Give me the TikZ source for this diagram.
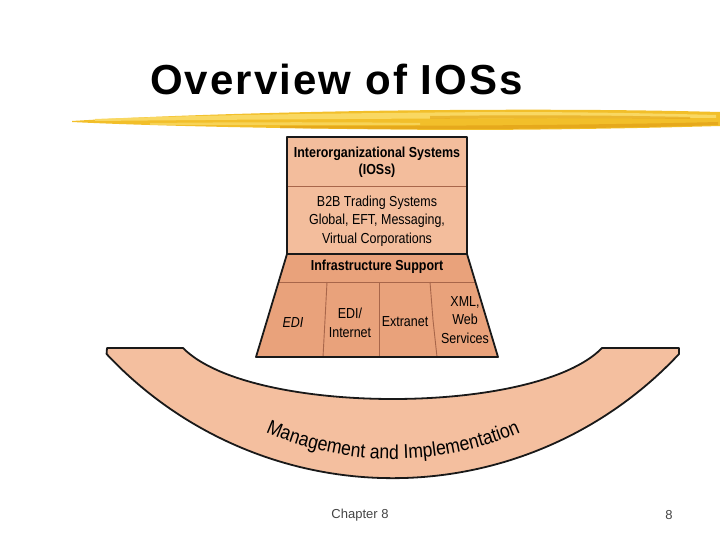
\documentclass[tikz,border=0pt]{standalone}
\usepackage{fontspec}
\setmainfont{Liberation Sans}
\newfontfamily\titlefont[LetterSpace=5]{Liberation Sans}
\newfontfamily\cond[FakeStretch=0.86]{Liberation Sans}
\newfontfamily\arccond[FakeStretch=0.88]{Liberation Sans}
\usetikzlibrary{decorations.text}
\definecolor{boxlight}{HTML}{F3BD9C}
\definecolor{boxdark}{HTML}{E9A27B}
\definecolor{arcfill}{HTML}{F4BF9F}
\definecolor{divline}{HTML}{A8664A}
\definecolor{brushA}{HTML}{F2BF2A}
\definecolor{brushB}{HTML}{F9D862}
\definecolor{brushC}{HTML}{E6A91C}
\definecolor{footgray}{HTML}{444444}
\tikzset{
  outline/.style={draw=black!90, line width=1.8pt, line join=round},
  thinline/.style={draw=divline, line width=0.9pt},
  celltext/.style={font=\cond\fontsize{14.5}{18.5}\selectfont, align=center, inner sep=0pt},
  boldcell/.style={font=\cond\bfseries\fontsize{14.5}{17}\selectfont, align=center, inner sep=0pt},
}
\begin{document}
\begin{tikzpicture}[x=1pt,y=-1pt]
\useasboundingbox (0,0) rectangle (720,540);
% title
\node[anchor=base west, inner sep=0pt, font=\titlefont\bfseries\fontsize{42}{42}\selectfont] (title) at (150,95) {Overview of IOSs};
% brush stroke
\fill[brushA] (72,121) .. controls (150,116) and (300,111) .. (450,110) .. controls (600,109) and (680,111) .. (720,112) -- (720,126) .. controls (650,128) and (550,130) .. (450,130) .. controls (300,129) and (150,126) .. (72,122) -- cycle;
\fill[brushB] (95,119) .. controls (200,115) and (350,113) .. (500,112) .. controls (600,112) and (680,114) .. (716,115) -- (716,118) .. controls (600,118) and (400,118) .. (95,121) -- cycle;
\fill[brushB, opacity=0.8] (150,123) .. controls (250,122) and (350,122) .. (420,123) -- (420,125) .. controls (350,125) and (250,125) .. (150,125) -- cycle;
\fill[brushC] (280,126) .. controls (450,126) and (600,125) .. (718,122) -- (718,125) .. controls (600,129) and (450,130) .. (280,128) -- cycle;
\fill[brushC, opacity=0.7] (430,116) .. controls (500,115) and (600,115) .. (690,117) -- (690,119) .. controls (600,118) and (500,118) .. (430,119) -- cycle;
% management arc band
\path[fill=arcfill, outline] (107,348) -- (183,348) .. controls (250,416) and (536,416) .. (602,348) -- (679,348) -- (679,354)
  arc[start angle=43.1, end angle=136.9, radius=392] -- cycle;
\path[decorate, decoration={text along path, text align=center,
  text={|\arccond\fontsize{20}{20}\selectfont|Management and Implementation}}]
  (393,142) ++(125:317) arc[start angle=125, end angle=55, radius=317];
% trapezoid (infrastructure)
\path[fill=boxdark] (287,254) -- (467,254) -- (498,357) -- (256,357) -- cycle;
\draw[thinline] (278.6,282) -- (475.4,282);
\draw[thinline] (327,282) -- (325,320) -- (323,357);
\draw[thinline] (379,282) -- (379,357);
\draw[thinline] (430,282) -- (433,320) -- (437,357);
\draw[outline] (287,254) -- (256,357) -- (498,357) -- (467,254);
% top boxes
\node[fill=boxlight, minimum width=180pt, minimum height=49pt, inner sep=0pt] (ios) at (377,161.5) {};
\node[fill=boxlight, minimum width=180pt, minimum height=68pt, inner sep=0pt] (b2b) at (377,220) {};
\draw[thinline] (ios.south west) -- (ios.south east);
\draw[outline] (b2b.south west) -- (ios.north west) -- (ios.north east) -- (b2b.south east) -- cycle;
\node[boldcell] (iostext) at (377,162) {Interorganizational Systems\\(IOSs)};
\node[celltext] (b2btext) at (377,221) {B2B Trading Systems\\Global, EFT, Messaging,\\Virtual Corporations};
\node[boldcell] (infra) at (377,267) {Infrastructure Support};
\node[celltext, font=\cond\itshape\fontsize{14.5}{18}\selectfont] (edi) at (293,323) {EDI};
\node[celltext] (ediint) at (350,323) {EDI/\\Internet};
\node[celltext] (extra) at (405,322) {Extranet};
\node[celltext] (xml) at (465,320) {XML,\\Web\\Services};
% footer
\node[font=\fontsize{13}{13}\selectfont, text=footgray, inner sep=0pt] (chap) at (360,515) {Chapter 8};
\node[font=\fontsize{13}{13}\selectfont, text=footgray, inner sep=0pt] (page) at (669,515) {8};
\end{tikzpicture}
\end{document}
